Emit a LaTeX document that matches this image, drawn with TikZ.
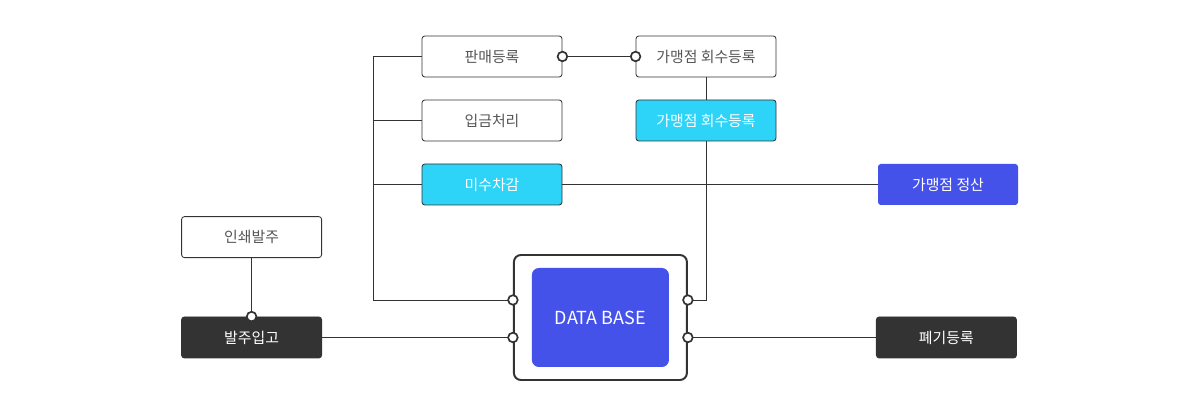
\documentclass[tikz,border=0pt]{standalone}
\usepackage{fontspec}
\setmainfont{Noto Sans CJK KR}
\usetikzlibrary{positioning}
\definecolor{linegray}{HTML}{333333}
\definecolor{textgray}{HTML}{555555}
\definecolor{sky}{HTML}{2ED3F8}
\definecolor{dbblue}{HTML}{4452EA}
\definecolor{dark}{HTML}{333333}

\begin{document}
\begin{tikzpicture}[node distance=1.6cm,on grid,
  box/.style={draw=linegray,rounded corners=2pt,minimum width=3.5cm,minimum height=1.025cm,
    inner sep=0pt,text=textgray,font=\fontsize{10.6}{12}\selectfont,line width=0.6pt},
  skybox/.style={box,fill=sky,text=white},
  bluebox/.style={box,draw=none,fill=dbblue,text=white},
  darkbox/.style={box,fill=dark,text=white},
  port/.style={circle,draw=linegray,fill=white,line width=1.2pt,inner sep=0pt,minimum size=0.24cm},
  link/.style={draw=linegray,line width=0.6pt}]
\useasboundingbox (0,0) rectangle (30,10);
   \node[box] (pan) at (12.3,8.5875) {판매등록};
   \node[box] (gareg) [right=5.35cm of pan] {가맹점 회수등록};
   \node[box] (ipgeum) [below=of pan] {입금처리};
   \node[skybox] (misu) [below=of ipgeum] {미수차감};
   \node[skybox] (gacyan) [below=of gareg] {가맹점 회수등록};
   \node[bluebox] (jeong) [right=11.4cm of misu] {가맹점 정산};
   \node[darkbox] (balju) at (6.29,1.5625) {발주입고};
   \node[box] (inswae) [above=2.51cm of balju] {인쇄발주};
   \node[darkbox] (pye) [right=17.37cm of balju] {폐기등록};
   % database block
   \node[draw=linegray,line width=1.4pt,rounded corners=5pt,minimum width=4.325cm,
     minimum height=3.125cm] (db) at (15.01,2.0625) {};
   \node[fill=dbblue,rounded corners=5pt,minimum width=3.425cm,minimum height=2.475cm,
     text=white,font=\fontsize{12.8}{14}\selectfont] (dbin) at (db.center) {DATA BASE};
   \coordinate (bus) at (9.325,2.5);
   \coordinate (turn) at (17.65,2.5);
   \path[link]
(bus) |- (pan.west)
(bus |- ipgeum) -- (ipgeum.west)
(bus |- misu) -- (misu.west)
(gareg.south) -- (gacyan.north)
(gacyan.south) |- (db.east |- turn)
(misu.east) -- (jeong.west |- misu.east)
(inswae.south) -- (balju.north)
(balju.east) -- (db.west |- balju.east)
(db.east |- pye.west) -- (pye.west)
(pan.east) -- (gareg.west)
(bus) -- (db.west |- bus);
   \node[port] (p1) at (pan.east) {};
   \node[port] (p2) at (gareg.west) {};
   \node[port] (p3) at (balju.north) {};
   \node[port] (p4) at (db.west |- bus) {};
   \node[port] (p5) at (db.west |- balju.east) {};
   \node[port] (p6) at (db.east |- turn) {};
   \node[port] (p7) at (db.east |- pye.west) {};
\end{tikzpicture}
\end{document}
